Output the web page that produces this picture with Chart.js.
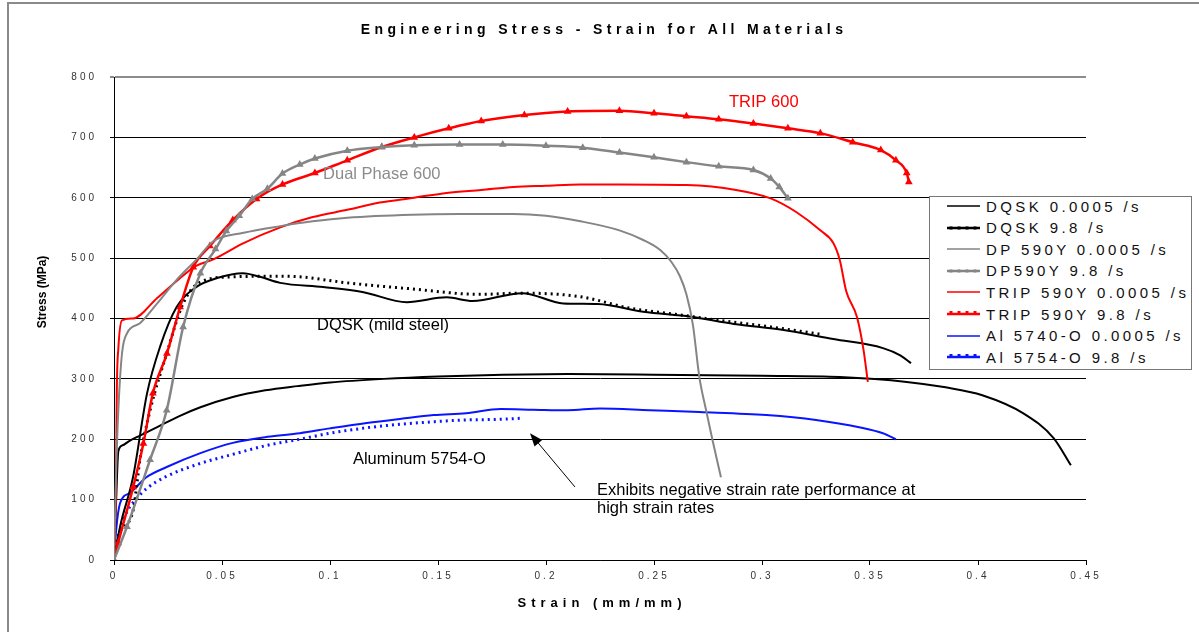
<!DOCTYPE html>
<html lang="en">
<head>
<meta charset="UTF-8">
<title>Engineering Stress - Strain for All Materials</title>
<script src="https://cdn.jsdelivr.net/npm/chart.js"></script>
<style>
    html, body { margin: 0; padding: 0; background: #fff; }
    #wrap { position: relative; width: 1199px; height: 632px; overflow: hidden; font-family: "Liberation Sans", Arial, sans-serif; }
    #frame { position: absolute; left: 7px; top: 2px; width: 1300px; height: 700px; border-left: 2px solid #8a8a8a; border-top: 2px solid #8a8a8a; }
    #chart { position: absolute; left: 0; top: 0; }
    #legend { position: absolute; left: 929px; top: 196px; width: 263px; height: 174px; border: 1px solid #777; background: #fff; box-sizing: border-box; }
    .row { position: absolute; left: 17px; height: 20px; display: flex; align-items: center; white-space: nowrap; }
    .row span { font-size: 15px; letter-spacing: 3.4px; color: #111; margin-left: 6px; }
</style>
</head>
<body>
<div id="wrap">
    <div id="frame"></div>
    <canvas id="chart" width="1199" height="632"></canvas>
    <div id="legend"></div>
</div>

<script>
    // values: strain (mm/mm) and stress (MPa)
    const dqskSlowStrain = [0, 0.001, 0.002, 0.004, 0.007, 0.012, 0.02, 0.03, 0.04, 0.055, 0.07, 0.085, 0.1, 0.125, 0.15, 0.18, 0.21, 0.25, 0.3, 0.336, 0.367, 0.385, 0.402, 0.421, 0.435, 0.443];
    const dqskSlowStress = [0, 100, 180, 190, 197, 206, 220, 238, 253, 270, 281, 288, 294, 300, 304, 307, 308, 307, 305, 303, 295, 286, 273, 243, 202, 157];

    const dqskFastStrain = [0, 0.0014, 0.0089, 0.012, 0.0167, 0.0244, 0.032, 0.0398, 0.055, 0.075, 0.086, 0.108, 0.138, 0.169, 0.189, 0.216, 0.239, 0.26, 0.28, 0.3, 0.327];
    const dqskFastStress = [0, 33, 83, 166, 248, 342, 425, 460, 469, 470, 469, 459, 449, 440, 442, 436, 417, 407, 397, 388, 374];

    // second high-rate DQSK trace (solid, not in legend)
    const dqskFast2Strain = [0, 0.0028, 0.0088, 0.0153, 0.0213, 0.029, 0.038, 0.0477, 0.0597, 0.0676, 0.0769, 0.0968, 0.115, 0.1356, 0.154, 0.166, 0.189, 0.208, 0.224, 0.245, 0.267, 0.287, 0.31, 0.333, 0.356, 0.364, 0.369];
    const dqskFast2Stress = [0, 55, 137, 276, 353, 419, 452, 467, 475, 469, 459, 452, 444, 427, 435, 429, 442, 425, 424, 411, 403, 391, 381, 366, 351, 339, 326];

    const dpSlowStrain = [0, 0.001, 0.002, 0.0037, 0.0061, 0.012, 0.02, 0.029, 0.038, 0.046, 0.06, 0.077, 0.092, 0.108, 0.138, 0.16, 0.185, 0.2, 0.216, 0.234, 0.245, 0.253, 0.258, 0.262, 0.265, 0.268, 0.271, 0.274, 0.277, 0.281];
    const dpSlowStress = [0, 150, 248, 342, 376, 392, 425, 464, 497, 528, 542, 553, 561, 567, 572, 573, 573, 570, 561, 546, 530, 513, 494, 470, 440, 390, 303, 250, 200, 137];

    const dpFastStrain = [0, 0.006, 0.0167, 0.0244, 0.032, 0.04, 0.047, 0.052, 0.058, 0.064, 0.071, 0.078, 0.086, 0.093, 0.108, 0.124, 0.139, 0.16, 0.18, 0.2, 0.217, 0.234, 0.25, 0.265, 0.28, 0.296, 0.304, 0.308, 0.312];
    const dpFastStress = [0, 55, 166, 248, 386, 475, 515, 545, 570, 598, 615, 640, 655, 665, 678, 684, 687, 688, 688, 686, 683, 675, 667, 659, 652, 646, 632, 618, 599];

    const tripSlowStrain = [0, 0.001, 0.0013, 0.002, 0.0037, 0.0088, 0.02, 0.03, 0.038, 0.046, 0.06, 0.077, 0.092, 0.108, 0.123, 0.139, 0.154, 0.17, 0.185, 0.2, 0.216, 0.234, 0.265, 0.288, 0.304, 0.316, 0.327, 0.333, 0.336, 0.339, 0.344, 0.347, 0.349];
    const tripSlowStress = [0, 150, 280, 350, 397, 400, 434, 465, 487, 498, 525, 551, 568, 580, 592, 600, 608, 613, 618, 620, 622, 622, 621, 613, 599, 576, 546, 525, 497, 445, 402, 348, 295];

    const tripFastStrain = [0, 0.0019, 0.0089, 0.0136, 0.018, 0.0245, 0.0306, 0.0367, 0.0444, 0.055, 0.066, 0.078, 0.093, 0.108, 0.124, 0.139, 0.155, 0.17, 0.19, 0.21, 0.234, 0.25, 0.265, 0.28, 0.296, 0.312, 0.327, 0.342, 0.355, 0.362, 0.367, 0.368];
    const tripFastStress = [0, 28, 121, 193, 276, 342, 419, 485, 520, 563, 598, 622, 641, 662, 684, 700, 715, 727, 737, 743, 744, 740, 735, 730, 723, 715, 707, 692, 679, 662, 641, 626];

    const alSlowStrain = [0, 0.001, 0.0028, 0.0074, 0.015, 0.0244, 0.04, 0.055, 0.071, 0.086, 0.1, 0.117, 0.133, 0.148, 0.163, 0.179, 0.194, 0.21, 0.225, 0.248, 0.271, 0.302, 0.325, 0.345, 0.356, 0.362];
    const alSlowStress = [0, 50, 94, 111, 137, 154, 177, 194, 204, 210, 218, 227, 234, 240, 243, 250, 249, 248, 251, 248, 245, 240, 232, 220, 210, 200];

    const alFastStrain = [0, 0.003, 0.006, 0.01, 0.015, 0.024, 0.04, 0.055, 0.071, 0.086, 0.1, 0.117, 0.133, 0.148, 0.163, 0.179, 0.189];
    const alFastStress = [0, 50, 80, 100, 118, 138, 160, 175, 190, 200, 210, 219, 225, 229, 232, 233, 235];

    const xTicks = [0, 0.05, 0.1, 0.15, 0.2, 0.25, 0.3, 0.35, 0.4, 0.45];
    const yTicks = [0, 100, 200, 300, 400, 500, 600, 700, 800];

    const BLACK = '#000000', GRAY = '#858585', RED = '#ff0000', BLUE = '#0a14ff';

    function pts(xs, ys) {
        return xs.map((x, i) => ({ x: x, y: ys[i] }));
    }

    function plain(label, xs, ys, color) {
        return { label, data: pts(xs, ys), borderColor: color, backgroundColor: color,
                 borderWidth: 2, pointRadius: 0, showLine: true, cubicInterpolationMode: 'monotone' };
    }

    function dotted(label, xs, ys, color) {
        return { label, data: pts(xs, ys), borderColor: color, backgroundColor: color,
                 borderWidth: 3, borderDash: [2, 4], pointRadius: 0, showLine: true, cubicInterpolationMode: 'monotone' };
    }

    function marked(label, xs, ys, color) {
        return { label, data: pts(xs, ys), borderColor: color, backgroundColor: color,
                 borderWidth: 2.5, pointRadius: 2, pointStyle: 'triangle', showLine: true, cubicInterpolationMode: 'monotone' };
    }

    const datasets = [
        plain('DP 590Y 0.0005 /s', dpSlowStrain, dpSlowStress, GRAY),
        marked('DP590Y 9.8 /s', dpFastStrain, dpFastStress, GRAY),
        plain('TRIP 590Y 0.0005 /s', tripSlowStrain, tripSlowStress, RED),
        marked('TRIP 590Y 9.8 /s', tripFastStrain, tripFastStress, RED),
        plain('DQSK 0.0005 /s', dqskSlowStrain, dqskSlowStress, BLACK),
        plain('', dqskFast2Strain, dqskFast2Stress, BLACK),
        dotted('DQSK 9.8 /s', dqskFastStrain, dqskFastStress, BLACK),
        plain('Al 5740-O 0.0005 /s', alSlowStrain, alSlowStress, BLUE),
        dotted('Al 5754-O 9.8 /s', alFastStrain, alFastStress, BLUE)
    ];

    // legend rows, in the order of the picture
    const legendRows = [
        ['DQSK 0.0005 /s', BLACK, 'plain'],
        ['DQSK 9.8 /s', BLACK, 'dots'],
        ['DP 590Y 0.0005 /s', GRAY, 'plain'],
        ['DP590Y 9.8 /s', GRAY, 'dots'],
        ['TRIP 590Y 0.0005 /s', RED, 'plain'],
        ['TRIP 590Y 9.8 /s', RED, 'ticks'],
        ['Al 5740-O 0.0005 /s', BLUE, 'plain'],
        ['Al 5754-O 9.8 /s', BLUE, 'ticks']
    ];

    const legend = document.getElementById('legend');
    legendRows.forEach((r, i) => {
        const row = document.createElement('div');
        row.className = 'row';
        row.style.top = (i * 21.6) - 1 + 'px';
        let svg = '<svg width="33" height="20">';
        if (r[2] === 'plain') {
            svg += `<line x1="0" y1="10" x2="33" y2="10" stroke="${r[1]}" stroke-width="1.5"/>`;
        } else {
            svg += `<line x1="0" y1="10" x2="33" y2="10" stroke="${r[1]}" stroke-width="2.5"/>`;
            [4, 12, 20, 28].forEach(cx => {
                if (r[2] === 'dots') svg += `<rect x="${cx - 1.5}" y="8.5" width="3" height="3" fill="${r[1]}"/>`;
                else svg += `<rect x="${cx - 1.5}" y="7" width="3" height="3" fill="${r[1]}"/>`;
            });
        }
        svg += '</svg>';
        row.innerHTML = svg + '<span>' + r[0] + '</span>';
        legend.appendChild(row);
    });

    const FONT = '"Liberation Sans", Arial, sans-serif';

    const notes = {
        id: 'notes',
        beforeDraw(chart) {
            chart.ctx.letterSpacing = '3px';
        },
        afterDraw(chart) {
            const { ctx, chartArea } = chart;
            const x = chart.scales.x, y = chart.scales.y;
            ctx.save();
            ctx.fillStyle = '#000';
            ctx.textBaseline = 'middle';

            // title
            ctx.textAlign = 'center';
            ctx.letterSpacing = '4.4px';
            ctx.font = 'bold 14px ' + FONT;
            ctx.fillText('Engineering Stress - Strain for All Materials', (chartArea.left + chartArea.right) / 2 + 4, 30);

            // axis titles
            ctx.letterSpacing = '5px';
            ctx.font = 'bold 13px ' + FONT;
            ctx.fillText('Strain (mm/mm)', (chartArea.left + chartArea.right) / 2 + 2, 603);

            ctx.letterSpacing = '0px';
            ctx.font = 'bold 12px ' + FONT;
            ctx.save();
            ctx.translate(43, 292);
            ctx.rotate(-Math.PI / 2);
            ctx.fillText('Stress (MPa)', 0, 0);
            ctx.restore();

            // notes on the curves
            ctx.textAlign = 'left';
            ctx.font = '16.5px ' + FONT;
            const say = (t, sx, sy, c) => { ctx.fillStyle = c; ctx.fillText(t, x.getPixelForValue(sx), y.getPixelForValue(sy)); };
            say('TRIP 600', 0.2847, 758, RED);
            say('Dual Phase 600', 0.0968, 639, '#8c8c8c');
            say('DQSK (mild steel)', 0.094, 389, '#000');
            say('Aluminum 5754-O', 0.1106, 167, '#000');
            say('Exhibits negative strain rate performance at', 0.2236, 116, '#000');
            say('high strain rates', 0.2236, 86, '#000');

            // arrow
            const x0 = x.getPixelForValue(0.2134), y0 = y.getPixelForValue(121);
            const x1 = x.getPixelForValue(0.1926), y1 = y.getPixelForValue(210);
            const a = Math.atan2(y1 - y0, x1 - x0);
            ctx.strokeStyle = '#000';
            ctx.lineWidth = 1;
            ctx.beginPath();
            ctx.moveTo(x0, y0);
            ctx.lineTo(x1 - 8 * Math.cos(a), y1 - 8 * Math.sin(a));
            ctx.stroke();
            ctx.fillStyle = '#000';
            ctx.beginPath();
            ctx.moveTo(x1, y1);
            ctx.lineTo(x1 - 13 * Math.cos(a) + 5 * Math.sin(a), y1 - 13 * Math.sin(a) - 5 * Math.cos(a));
            ctx.lineTo(x1 - 13 * Math.cos(a) - 5 * Math.sin(a), y1 - 13 * Math.sin(a) + 5 * Math.cos(a));
            ctx.closePath();
            ctx.fill();
            ctx.restore();
        }
    };

    new Chart(document.getElementById('chart'), {
        type: 'scatter',
        data: { datasets },
        options: {
            responsive: false,
            animation: false,
            layout: { padding: { top: 77, right: 113, left: 0, bottom: 0 } },
            plugins: { legend: { display: false }, title: { display: false }, tooltip: { enabled: false } },
            scales: {
                x: {
                    type: 'linear', min: 0, max: 0.45,
                    afterBuildTicks: s => { s.ticks = xTicks.map(v => ({ value: v })); },
                    afterFit: s => { s.height = 72; },
                    ticks: { callback: v => String(+v.toFixed(2)), color: '#333', padding: 5, maxRotation: 0,
                             font: { family: FONT, size: 10 } },
                    grid: { drawOnChartArea: false, drawTicks: true, tickLength: 5, color: '#000' },
                    border: { display: true, color: '#000', width: 1 }
                },
                y: {
                    type: 'linear', min: 0, max: 800,
                    afterBuildTicks: s => { s.ticks = yTicks.map(v => ({ value: v })); },
                    afterFit: s => { s.width = 114; },
                    ticks: { color: '#333', padding: 13, font: { family: FONT, size: 10 } },
                    grid: { color: c => c.tick && c.tick.value === 800 ? '#8c8c8c' : '#000',
                            lineWidth: c => c.tick && c.tick.value === 800 ? 2 : 1,
                            drawTicks: true, tickLength: 4 },
                    border: { display: true, color: '#000', width: 1 }
                }
            }
        },
        plugins: [notes]
    });
</script>
</body>
</html>
